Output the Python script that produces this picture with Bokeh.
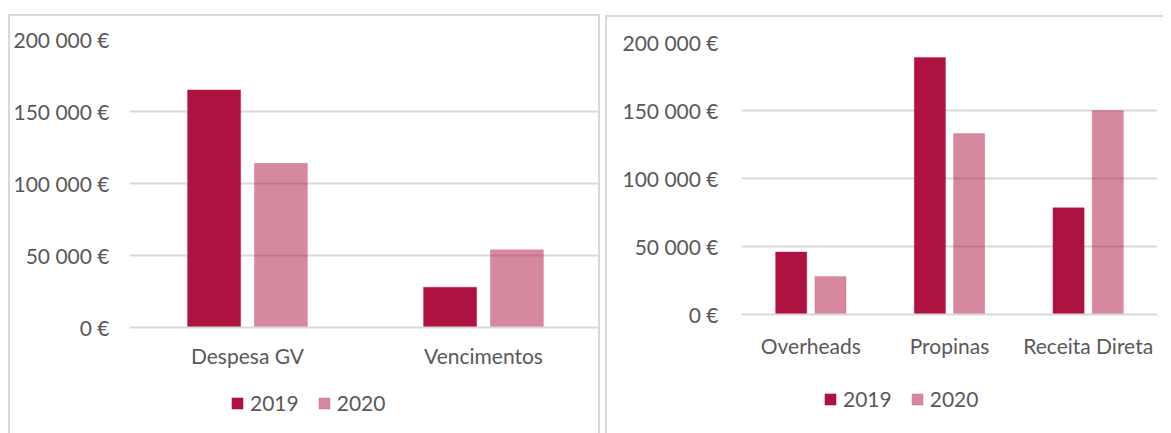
from bokeh.plotting import figure
from bokeh.models import ColumnDataSource, FactorRange, Range1d, FixedTicker, Legend, LegendItem
from bokeh.transform import dodge
from bokeh.layouts import row, column
from bokeh.embed import file_html
from bokeh.resources import INLINE

# ---- data ----
left_categories = ["Despesa GV", "Vencimentos"]
left_2019 = [165000, 28000]
left_2020 = [114000, 54000]

right_categories = ["Overheads", "Propinas", "Receita Direta"]
right_2019 = [46000, 189000, 78500]
right_2020 = [28000, 133000, 150000]

series_names = ["2019", "2020"]
y_ticks = [0, 50000, 100000, 150000, 200000]
y_tick_labels = ["0 €", "50 000 €", "100 000 €", "150 000 €", "200 000 €"]

FONT = "Lato"
TEXT = "#595959"
GRID = "#D9D9D9"
C2019 = "#AE1240"
C2020 = "#AE1240"
A2020 = 0.5
BORDER = "2px solid #D9D9D9"


def add_bars(p, src, visible=True):
    r1 = p.vbar(x=dodge("cat", -0.1415, range=p.x_range), top="y19", width=0.225,
                source=src, fill_color=C2019, line_color=C2019, line_alpha=0.35,
                line_width=1, visible=visible)
    r2 = p.vbar(x=dodge("cat", 0.1415, range=p.x_range), top="y20", width=0.225,
                source=src, fill_color=C2020, fill_alpha=A2020, line_color=C2020,
                line_alpha=0.15, line_width=1, visible=visible)
    return r1, r2


def make_chart(src, cats, width, height, mb_left, mb_right, mb_top, mb_bottom,
               x_standoff, y_standoff, styles):
    p = figure(x_range=FactorRange(*cats), y_range=Range1d(0, 200000),
               width=width, height=height, output_backend="svg",
               toolbar_location=None, min_border_left=mb_left,
               min_border_right=mb_right, min_border_top=mb_top,
               min_border_bottom=mb_bottom, styles=styles)
    p.outline_line_color = None
    p.background_fill_color = "white"
    p.border_fill_color = "white"

    add_bars(p, src)

    p.yaxis.ticker = FixedTicker(ticks=y_ticks)
    p.yaxis.major_label_overrides = {t: l for t, l in zip(y_ticks, y_tick_labels)}
    p.yaxis.axis_line_color = None
    p.yaxis.major_tick_line_color = None
    p.yaxis.minor_tick_line_color = None
    p.yaxis.major_tick_out = 0
    p.yaxis.minor_tick_out = 0
    p.yaxis.major_label_standoff = y_standoff
    p.yaxis.major_label_text_font = FONT
    p.yaxis.major_label_text_font_size = "21px"
    p.yaxis.major_label_text_color = TEXT

    p.xaxis.axis_line_color = GRID
    p.xaxis.axis_line_width = 2
    p.xaxis.major_tick_line_color = None
    p.xaxis.minor_tick_line_color = None
    p.xaxis.major_tick_out = 0
    p.xaxis.minor_tick_out = 0
    p.xaxis.major_label_standoff = x_standoff
    p.xaxis.major_label_text_font = FONT
    p.xaxis.major_label_text_font_size = "21px"
    p.xaxis.major_label_text_color = TEXT

    p.xgrid.grid_line_color = None
    p.ygrid.grid_line_color = GRID
    p.ygrid.grid_line_width = 2
    p.ygrid.ticker = FixedTicker(ticks=y_ticks)
    return p


def make_legend(src, cats, width, height, loc, styles):
    p = figure(x_range=FactorRange(*cats), y_range=Range1d(0, 200000),
               width=width, height=height, output_backend="svg",
               toolbar_location=None, x_axis_type=None, y_axis_type=None,
               min_border=0, styles=styles)
    p.outline_line_color = None
    p.grid.visible = False
    p.background_fill_color = "white"
    p.border_fill_color = "white"
    r1, r2 = add_bars(p, src, visible=False)
    legend = Legend(items=[LegendItem(label=series_names[0], renderers=[r1]),
                           LegendItem(label=series_names[1], renderers=[r2])],
                    orientation="horizontal", location=loc,
                    glyph_width=14, glyph_height=14, label_standoff=6, spacing=18,
                    label_text_font=FONT, label_text_font_size="21px",
                    label_text_color=TEXT, border_line_color=None,
                    background_fill_alpha=0, padding=0, margin=0,
                    inactive_fill_alpha=0)
    p.add_layout(legend)
    return p


src_l = ColumnDataSource(dict(cat=left_categories, y19=left_2019, y20=left_2020))
src_r = ColumnDataSource(dict(cat=right_categories, y19=right_2019, y20=right_2020))

c1 = make_chart(src_l, left_categories, 592, 366, 119, 1, 23, 55, 15, 20,
                {"border-top": BORDER, "border-left": BORDER, "border-right": BORDER})
l1 = make_legend(src_l, left_categories, 592, 53, (101, 18),
                 {"border-left": BORDER, "border-right": BORDER})

c2 = make_chart(src_r, right_categories, 558, 365, 134, 8, 25, 68, 18, 23,
                {"border-top": BORDER, "border-left": BORDER})
l2 = make_legend(src_r, right_categories, 558, 53, (82, 22), {"border-left": BORDER})

left = column(c1, l1, spacing=0, margin=(14, 0, 0, 8))
right = column(c2, l2, spacing=0, margin=(15, 0, 0, 5))

layout = row(left, right)
open("out.html", "w").write(file_html(layout, INLINE))
